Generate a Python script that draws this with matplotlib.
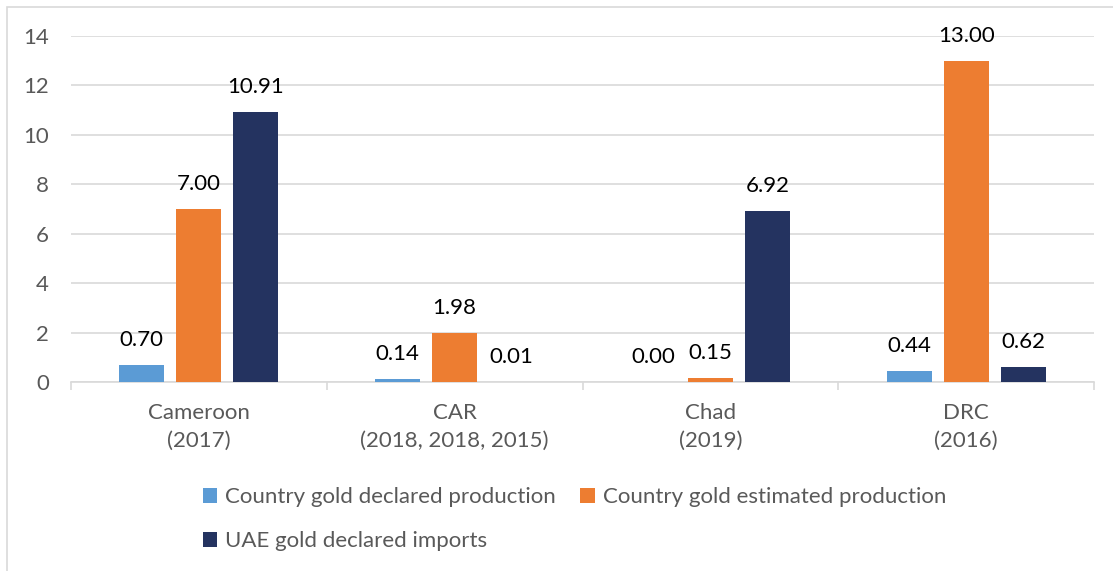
import matplotlib
matplotlib.use("Agg")
import numpy as np
from matplotlib import pyplot as plt
from matplotlib.patches import Rectangle

categories = ["Cameroon\n(2017)", "CAR\n(2018, 2018, 2015)", "Chad\n(2019)", "DRC\n(2016)"]
series_names = ["Country gold declared production",
                "Country gold estimated production",
                "UAE gold declared imports"]
declared = [0.70, 0.14, 0.00, 0.44]
estimated = [7.00, 1.98, 0.15, 13.00]
uae_imports = [10.91, 0.01, 6.92, 0.62]
colors = ["#5B9BD5", "#ED7D31", "#243360"]

plt.rcParams['font.family'] = ['Lato', 'DejaVu Sans']

fig = plt.figure(figsize=(11.13, 5.71), dpi=100)
ax = fig.add_axes([71 / 1113, 1 - 382 / 571, (1094 - 71) / 1113, (382 - 36) / 571])

# outer chart border
fig.patches.append(Rectangle((7 / 1113, -0.1), 1.2, 1 - 7 / 571 + 0.1,
                             transform=fig.transFigure, fill=False,
                             edgecolor="#D9D9D9", linewidth=1.2))

x = np.arange(len(categories))
w = 0.176
step = 0.223
bars = []
for i, vals in enumerate([declared, estimated, uae_imports]):
    b = ax.bar(x + (i - 1) * step, vals, width=w, color=colors[i],
               label=series_names[i], zorder=3)
    bars.append(b)
    for xi, v in zip(x + (i - 1) * step, vals):
        ax.annotate("%.2f" % v, (xi, v), xytext=(0, 18), textcoords="offset points",
                    ha="center", va="center", fontsize=16, color="black")

ax.set_xlim(-0.5, len(categories) - 0.5)
ax.set_ylim(0, 14)
ax.set_yticks(range(0, 15, 2))
ax.grid(axis="y", color="#D9D9D9", linewidth=1.2, zorder=0)
ax.set_axisbelow(True)

for s in ["top", "right", "left"]:
    ax.spines[s].set_visible(False)
ax.spines["bottom"].set_color("#D9D9D9")
ax.spines["bottom"].set_linewidth(1.2)

ax.set_xticks(x)
ax.set_xticklabels(categories, fontsize=16, color="#595959", linespacing=1.5)
ax.tick_params(axis="x", which="major", length=0, pad=15)
ax.set_xticks(np.arange(-0.5, len(categories), 1), minor=True)
ax.tick_params(axis="x", which="minor", length=6, color="#D9D9D9", width=1.2)
ax.tick_params(axis="y", length=0, labelsize=16, labelcolor="#595959", pad=16)

handles = [bars[0], bars[2], bars[1]]
labels = [series_names[0], series_names[2], series_names[1]]
fig.legend(handles, labels, loc="upper left", bbox_to_anchor=(183 / 1113, 1 - 467 / 571),
           ncol=2, frameon=False, fontsize=16, labelcolor="#595959",
           handlelength=0.65, handleheight=0.65, handletextpad=0.35,
           columnspacing=1.1, labelspacing=1.1)

fig.savefig("out.png", dpi=100)
